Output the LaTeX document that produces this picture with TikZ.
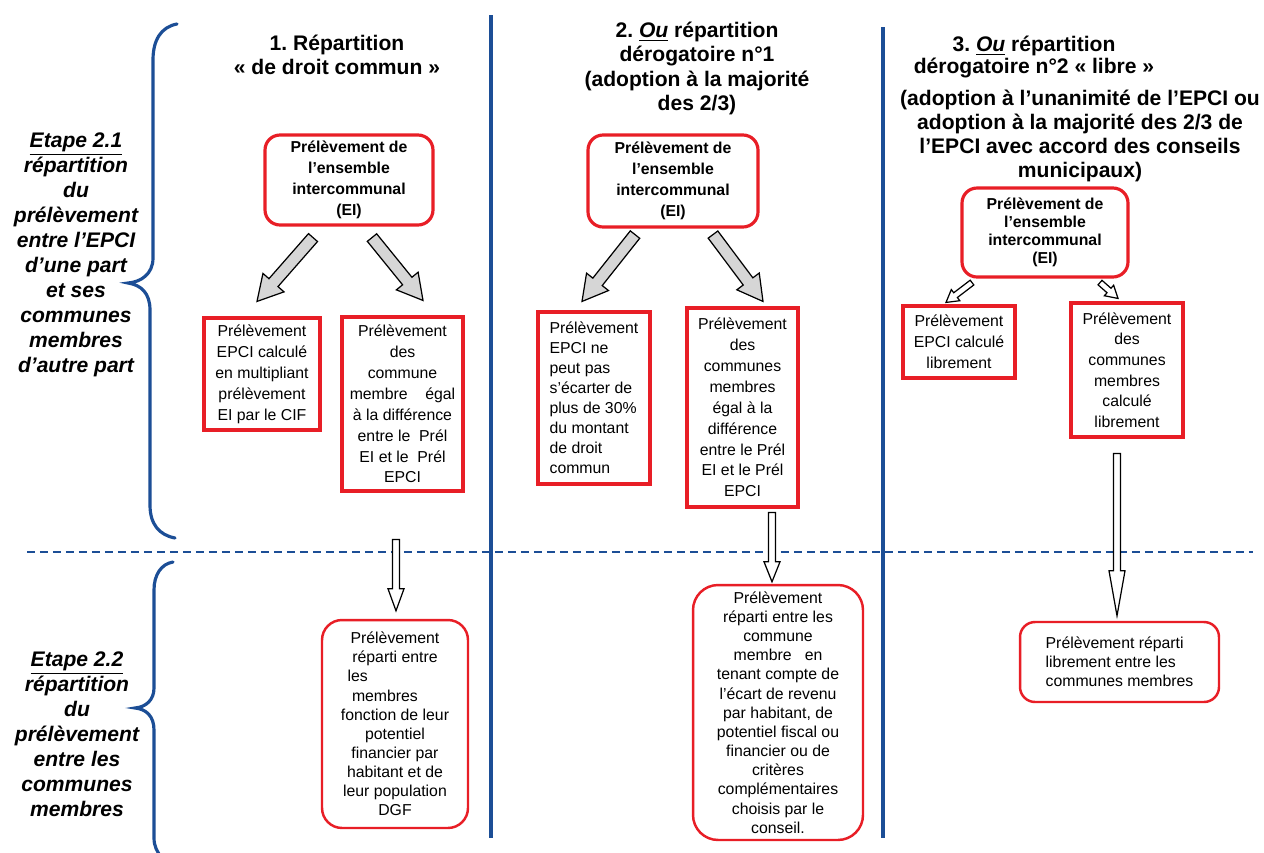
\documentclass[tikz,border=0pt]{standalone}
\usepackage{fontspec}
\setmainfont{Liberation Sans}
\frenchspacing
\usetikzlibrary{calc}
\definecolor{boxRed}{RGB}{232, 30, 38}
\definecolor{lineBlue}{RGB}{28, 78, 150}
\definecolor{arrowGrey}{RGB}{214, 214, 214}

\begin{document}
\begin{tikzpicture}[
        x=0.02cm, y=-0.02cm,
        head/.style={align=center, inner sep=0pt, font=\fontsize{12pt}{13.7pt}\selectfont\bfseries},
        etape/.style={align=center, inner sep=0pt, font=\fontsize{12pt}{14.2pt}\selectfont\bfseries\itshape},
        eibox/.style={draw=boxRed, line width=1.8pt, rounded corners=0.3cm, align=center, inner sep=0pt, font=\fontsize{9pt}{11.9pt}\selectfont\bfseries},
        calcbox/.style={draw=boxRed, line width=1.8pt, align=center, inner sep=0pt, font=\fontsize{9pt}{11.9pt}\selectfont},
        repbox/.style={draw=boxRed, line width=1.4pt, rounded corners=0.4cm, align=center, inner sep=0pt, font=\fontsize{9pt}{10.9pt}\selectfont},
        sep/.style={draw=lineBlue, line width=2.2pt},
        brace/.style={draw=lineBlue, line width=1.8pt, line cap=round},
        blockarrow/.style n args={3}{draw=black, line width=0.7pt, to path={
            ($(\tikztostart)!#1!90:(\tikztotarget)$)
            -- ($(\tikztotarget)!#3!(\tikztostart)!#1!90:(\tikztotarget)$)
            -- ($(\tikztotarget)!#3!(\tikztostart)!#2!90:(\tikztotarget)$)
            -- (\tikztotarget)
            -- ($(\tikztotarget)!#3!(\tikztostart)!#2!-90:(\tikztotarget)$)
            -- ($(\tikztotarget)!#3!(\tikztostart)!#1!-90:(\tikztotarget)$)
            -- ($(\tikztostart)!#1!-90:(\tikztotarget)$) -- cycle}},
        fatarrow/.style={blockarrow={0.12cm}{0.28cm}{0.5cm}, fill=arrowGrey},
        slimarrow/.style={blockarrow={0.06cm}{0.14cm}{0.24cm}, fill=white},
        downarrow/.style={blockarrow={0.07cm}{0.16cm}{#1}, fill=white}
    ]
        \fill[white, use as bounding box] (0,0) rectangle (1264,852);

        % Separators
        \draw[sep] (491,15) -- (491,838);
        \draw[sep] (883,27) -- (883,838);
        \draw[draw=lineBlue, line width=1.1pt, dash pattern=on 0.16cm off 0.1cm] (27,552) -- (1253,552);

        % Braces
        \draw[brace] (177,24) .. controls (161,27) and (153,40) .. (153,60) -- (153,258)
            .. controls (153,274) and (141,282) .. (128,283)
            .. controls (141,285) and (150,293) .. (150,310) -- (150,505)
            .. controls (150,524) and (159,535) .. (175,538);
        \draw[brace] (173,562) .. controls (161,564) and (154,575) .. (154,590) -- (154,688)
            .. controls (154,700) and (146,707) .. (135,708)
            .. controls (146,709) and (154,716) .. (154,730) -- (154,838)
            .. controls (154,846) and (157,852) .. (162,858);
        \node[etape] (et1) at (76,255) {\underline{Etape 2.1}\\répartition\\du\\prélèvement\\entre l’EPCI\\d’une part\\et ses\\communes\\membres\\d’autre part};
        \node[etape] (et2) at (77,734) {\underline{Etape 2.2}\\répartition\\du\\prélèvement\\entre les\\communes\\membres};

        % Column 1
        \node[head] (head1) at (337,55) {1. Répartition\\«~de droit commun~»};
        \node[eibox, minimum width=3.36cm, minimum height=1.8cm] (ei1) at (349,180) {Prélèvement de\\l'ensemble\\intercommunal\\(EI)};
        \node[calcbox, minimum width=2.32cm, minimum height=2.24cm] (epci1) at (262,374) {Prélèvement\\EPCI calculé\\en multipliant\\prélèvement\\EI par le CIF};
        \node[calcbox, minimum width=2.42cm, minimum height=3.48cm] (cm1) at (402.5,404) {Prélèvement\\des\\commune\\membre\ \ \ \ égal\\à la différence\\entre le\ \ Prél\\EI et le\ \ Prél\\EPCI};
        \node[repbox, minimum width=2.92cm, minimum height=4.16cm] (rep1) at (395,724) {Prélèvement\\réparti entre\\\makebox[1.9cm][l]{les}\\\makebox[1.72cm][l]{membres}\\fonction de leur\\potentiel\\financier par\\habitant et de\\leur population\\DGF};
        \coordinate (a1s) at ($(ei1.south)+(-36,11)$);
        \coordinate (a1e) at ($(epci1.north)+(-5,-15)$);
        \coordinate (b1s) at ($(ei1.south)+(23,11)$);
        \coordinate (b1e) at ($(cm1.north)+(20.5,-15)$);
        \coordinate (c1s) at ($(cm1.south)+(-6.5,47)$);
        \coordinate (c1e) at ($(rep1.north)+(1,-8)$);
        \draw[fatarrow] (a1s) to (a1e);
        \draw[fatarrow] (b1s) to (b1e);
        \draw[downarrow=0.44cm] (c1s) to (c1e);

        % Column 2
        \node[head, font=\fontsize{12pt}{13.8pt}\selectfont\bfseries] (head2) at (697,68.5) {2. \underline{\itshape Ou} répartition\\dérogatoire n°1\\(adoption à la majorité\\des 2/3)};
        \node[eibox, minimum width=3.4cm, minimum height=1.84cm] (ei2) at (673,181) {Prélèvement de\\l'ensemble\\intercommunal\\(EI)};
        \node[calcbox, align=left, minimum width=2.24cm, minimum height=3.44cm, font=\fontsize{9pt}{11.4pt}\selectfont] (epci2) at (594,398) {Prélèvement\\EPCI ne\\peut pas\\s’écarter de\\plus de 30\%\\du montant\\de droit\\commun};
        \node[calcbox, minimum width=2.22cm, minimum height=3.98cm] (cm2) at (742.5,407.5) {Prélèvement\\des\\communes\\membres\\égal à la\\différence\\entre le Prél\\EI et le Prél\\EPCI};
        \node[repbox, rounded corners=0.5cm, minimum width=3.4cm, minimum height=5.1cm] (rep2) at (778,712.5) {Prélèvement\\réparti entre les\\commune\\membre\ \ \ en\\tenant compte de\\l'écart de revenu\\par habitant, de\\potentiel fiscal ou\\financier ou de\\critères\\complémentaires\\choisis par le\\conseil.};
        \coordinate (a2s) at ($(ei2.south)+(-38,6)$);
        \coordinate (a2e) at ($(epci2.north)+(-12,-9)$);
        \coordinate (b2s) at ($(ei2.south)+(40,6)$);
        \coordinate (b2e) at ($(cm2.north)+(20.5,-5)$);
        \coordinate (c2s) at ($(cm2.south)+(29.5,4)$);
        \coordinate (c2e) at ($(rep2.north)+(-6,-2)$);
        \draw[fatarrow] (a2s) to (a2e);
        \draw[fatarrow] (b2s) to (b2e);
        \draw[downarrow=0.4cm] (c2s) to (c2e);

        % Column 3
        \node[head, font=\fontsize{12pt}{12.8pt}\selectfont\bfseries] (head3a) at (1034,57) {3. \underline{\itshape Ou} répartition\\dérogatoire n°2 «~libre~»};
        \node[head] (head3b) at (1080,136) {(adoption à l’unanimité de l’EPCI ou\\adoption à la majorité des 2/3 de\\l’EPCI avec accord des conseils\\municipaux)};
        \node[eibox, minimum width=3.32cm, minimum height=1.78cm, font=\fontsize{9pt}{10.3pt}\selectfont\bfseries] (ei3) at (1045,232.5) {Prélèvement de\\l'ensemble\\intercommunal\\(EI)};
        \node[calcbox, minimum width=2.24cm, minimum height=1.44cm] (epci3) at (959,342) {Prélèvement\\EPCI calculé\\librement};
        \node[calcbox, minimum width=2.24cm, minimum height=2.68cm, font=\fontsize{9pt}{11.7pt}\selectfont] (cm3) at (1127,370) {Prélèvement\\des\\communes\\membres\\calculé\\librement};
        \node[repbox, rounded corners=0.3cm, align=left, minimum width=3.98cm, minimum height=1.6cm] (rep3) at (1119.5,662) {Prélèvement réparti\\librement entre les\\communes membres};
        \coordinate (a3s) at ($(ei3.south)+(-73,4)$);
        \coordinate (a3e) at ($(epci3.north)+(-13,-2)$);
        \coordinate (b3s) at ($(ei3.south)+(55,4)$);
        \coordinate (b3e) at ($(cm3.north)+(-9,-3)$);
        \coordinate (c3s) at ($(cm3.south)+(-10,15)$);
        \coordinate (c3e) at ($(rep3.north)+(-2.5,-5)$);
        \draw[slimarrow] (a3s) to (a3e);
        \draw[slimarrow] (b3s) to (b3e);
        \draw[downarrow=0.9cm] (c3s) to (c3e);
    \end{tikzpicture}
\end{document}
